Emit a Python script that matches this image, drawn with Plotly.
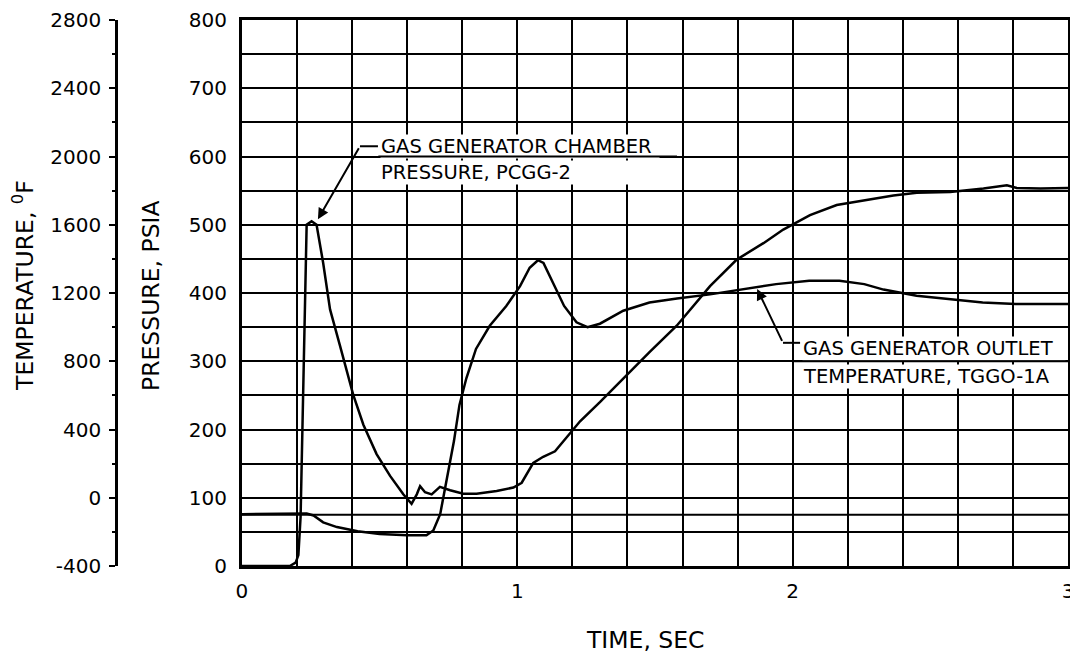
import plotly.graph_objects as go

# gas generator chamber pressure, PCGG-2 (psia)
pcgg_time = [0.0, 0.174, 0.195, 0.205, 0.213, 0.223, 0.235, 0.253, 0.271, 0.295,
             0.32, 0.356, 0.404, 0.441, 0.489, 0.538, 0.586, 0.616, 0.635, 0.647,
             0.665, 0.689, 0.719, 0.756, 0.804, 0.852, 0.925, 0.986, 1.016, 1.058,
             1.094, 1.137, 1.179, 1.228, 1.30, 1.361, 1.482, 1.579, 1.70, 1.797,
             1.894, 1.966, 2.063, 2.16, 2.269, 2.366, 2.451, 2.572, 2.693, 2.778,
             2.814, 2.90, 3.0]
pcgg_psia = [0, 0, 5, 16, 72, 265, 500, 505, 500, 444,
             376, 323, 251, 207, 164, 132, 105, 91, 105, 117,
             108, 105, 116, 111, 106, 106, 110, 115, 122, 151,
             160, 168, 188, 212, 240, 265, 314, 352, 410, 449,
             473, 493, 514, 529, 536, 543, 547, 548, 553, 558,
             554, 553, 554]

# gas generator outlet temperature, TGGO-1A (deg F)
tggo_time = [0.0, 0.20, 0.235, 0.26, 0.295, 0.345, 0.42, 0.50, 0.60, 0.67,
             0.695, 0.72, 0.745, 0.77, 0.79, 0.815, 0.85, 0.90, 0.96, 1.01,
             1.045, 1.075, 1.095, 1.13, 1.17, 1.215, 1.255, 1.30, 1.385, 1.48,
             1.58, 1.70, 1.82, 1.94, 2.06, 2.17, 2.26, 2.33, 2.45, 2.57,
             2.69, 2.81, 3.0]
tggo_degf = [-96, -92, -92, -104, -144, -172, -196, -212, -220, -220,
             -192, -96, 120, 332, 544, 700, 872, 1008, 1124, 1240,
             1348, 1392, 1376, 1260, 1124, 1028, 1000, 1020, 1096, 1144,
             1168, 1192, 1220, 1252, 1272, 1272, 1252, 1220, 1184, 1164,
             1144, 1136, 1136]

temp_ticks = [-400, 0, 400, 800, 1200, 1600, 2000, 2400, 2800]
temp_labels = ["-400", "0", "400", "800", "1200", "1600", "2000", "2400", "2800"]

FONT = "DejaVu Sans, sans-serif"
INK = "black"

fig = go.Figure()
fig.add_trace(go.Scatter(x=pcgg_time, y=pcgg_psia, mode="lines",
                         line=dict(color=INK, width=2.5), yaxis="y"))
fig.add_trace(go.Scatter(x=tggo_time, y=tggo_degf, mode="lines",
                         line=dict(color=INK, width=2.5), yaxis="y2"))

# page body has an 8px margin, so the figure is sized to end at the window edge
fig.update_layout(
    width=1070, height=651,
    margin=dict(l=30, r=10, t=12, b=93),
    paper_bgcolor="white", plot_bgcolor="white",
    showlegend=False,
    font=dict(family=FONT, size=20, color=INK),
    xaxis=dict(
        domain=[0.198, 1], range=[0, 3], dtick=1, tick0=0,
        automargin=False, ticklabeloverflow="allow",
        showgrid=True, gridcolor=INK, gridwidth=2,
        minor=dict(dtick=0.2, showgrid=True, gridcolor=INK, gridwidth=2),
        showline=True, linecolor=INK, linewidth=3, mirror=True,
        ticks="", ticklabelstandoff=5, zeroline=False,
    ),
    yaxis=dict(
        range=[0, 800], dtick=100, tick0=0,
        automargin=False, ticklabeloverflow="allow",
        showgrid=True, gridcolor=INK, gridwidth=2,
        minor=dict(dtick=50, showgrid=True, gridcolor=INK, gridwidth=2),
        showline=True, linecolor=INK, linewidth=3, mirror=True,
        ticks="", ticklabelstandoff=8, zeroline=False,
    ),
    yaxis2=dict(
        overlaying="y", anchor="free", position=0.0757, side="left",
        range=[-400, 2800], tickvals=temp_ticks, ticktext=temp_labels,
        automargin=False, ticklabeloverflow="allow",
        showgrid=False, zeroline=False,
        showline=True, linecolor=INK, linewidth=2.5,
        ticks="outside", ticklen=6, tickwidth=2, tickcolor=INK,
        minor=dict(dtick=200, tick0=-400, ticks="outside", ticklen=3,
                   tickwidth=2, tickcolor=INK),
        ticklabelstandoff=4,
    ),
    yaxis3=dict(
        overlaying="y", anchor="free", position=0.0757, side="left",
        range=[-400, 2800], tickvals=temp_ticks, automargin=False,
        showgrid=False, zeroline=False,
        showticklabels=False, ticks="inside", ticklen=6, tickwidth=2, tickcolor=INK,
    ),
)

# extra grid line at 75 psia
fig.add_shape(type="line", xref="x", yref="y", x0=0, x1=3, y0=75, y1=75,
              line=dict(color=INK, width=2), layer="below")

# axis titles
fig.add_annotation(text="TEMPERATURE, <sup>0</sup>F", xref="paper", yref="paper",
                   x=-0.0136, y=0.5147, xanchor="center", yanchor="middle",
                   textangle=-90, showarrow=False, font=dict(size=23.5))
fig.add_annotation(text="PRESSURE, PSIA", xref="paper", yref="paper",
                   x=0.1097, y=0.4963, xanchor="center", yanchor="middle",
                   textangle=-90, showarrow=False, font=dict(size=23.5))
fig.add_annotation(text="TIME, SEC", xref="x domain", yref="paper",
                   x=0.488, y=-0.1355, xanchor="center", yanchor="middle",
                   showarrow=False, font=dict(size=23.5))


def label(lines, x, ys, width):
    for txt, y in zip(lines, ys):
        fig.add_annotation(text=txt, x=x, y=y, xref="x", yref="y",
                           xanchor="left", yanchor="middle", align="left",
                           width=width, showarrow=False, bgcolor="white",
                           borderpad=0, font=dict(size=19.5))


def leader(tip, elbow, dash_end):
    fig.add_shape(type="line", xref="x", yref="y", x0=elbow[0], x1=dash_end,
                  y0=elbow[1], y1=elbow[1], line=dict(color=INK, width=2))
    fig.add_annotation(x=tip[0], y=tip[1], ax=elbow[0], ay=elbow[1],
                       xref="x", yref="y", axref="x", ayref="y", text=" ",
                       font=dict(size=1), showarrow=True, arrowhead=2,
                       arrowsize=1.1, arrowwidth=2, arrowcolor=INK,
                       standoff=0, startstandoff=0)


def gridline(y, x0, x1):
    # redraw a grid line that passes between the two label rows
    fig.add_annotation(x=x1, y=y, ax=x0, ay=y, xref="x", yref="y",
                       axref="x", ayref="y", text=" ", font=dict(size=1),
                       showarrow=True, arrowhead=0, arrowwidth=2,
                       arrowcolor=INK, standoff=0, startstandoff=0)


label(["GAS GENERATOR CHAMBER", "PRESSURE, PCGG-2"], 0.50, [615, 576], 278)
gridline(600, 0.49, 1.58)
leader((0.276, 508), (0.4286, 615), 0.494)

label(["GAS GENERATOR OUTLET", "TEMPERATURE, TGGO-1A"], 2.034, [318, 277], 262)
gridline(300, 2.0, 3.0)
leader((1.871, 406), (1.965, 327), 2.027)

fig.write_html("out.html")
